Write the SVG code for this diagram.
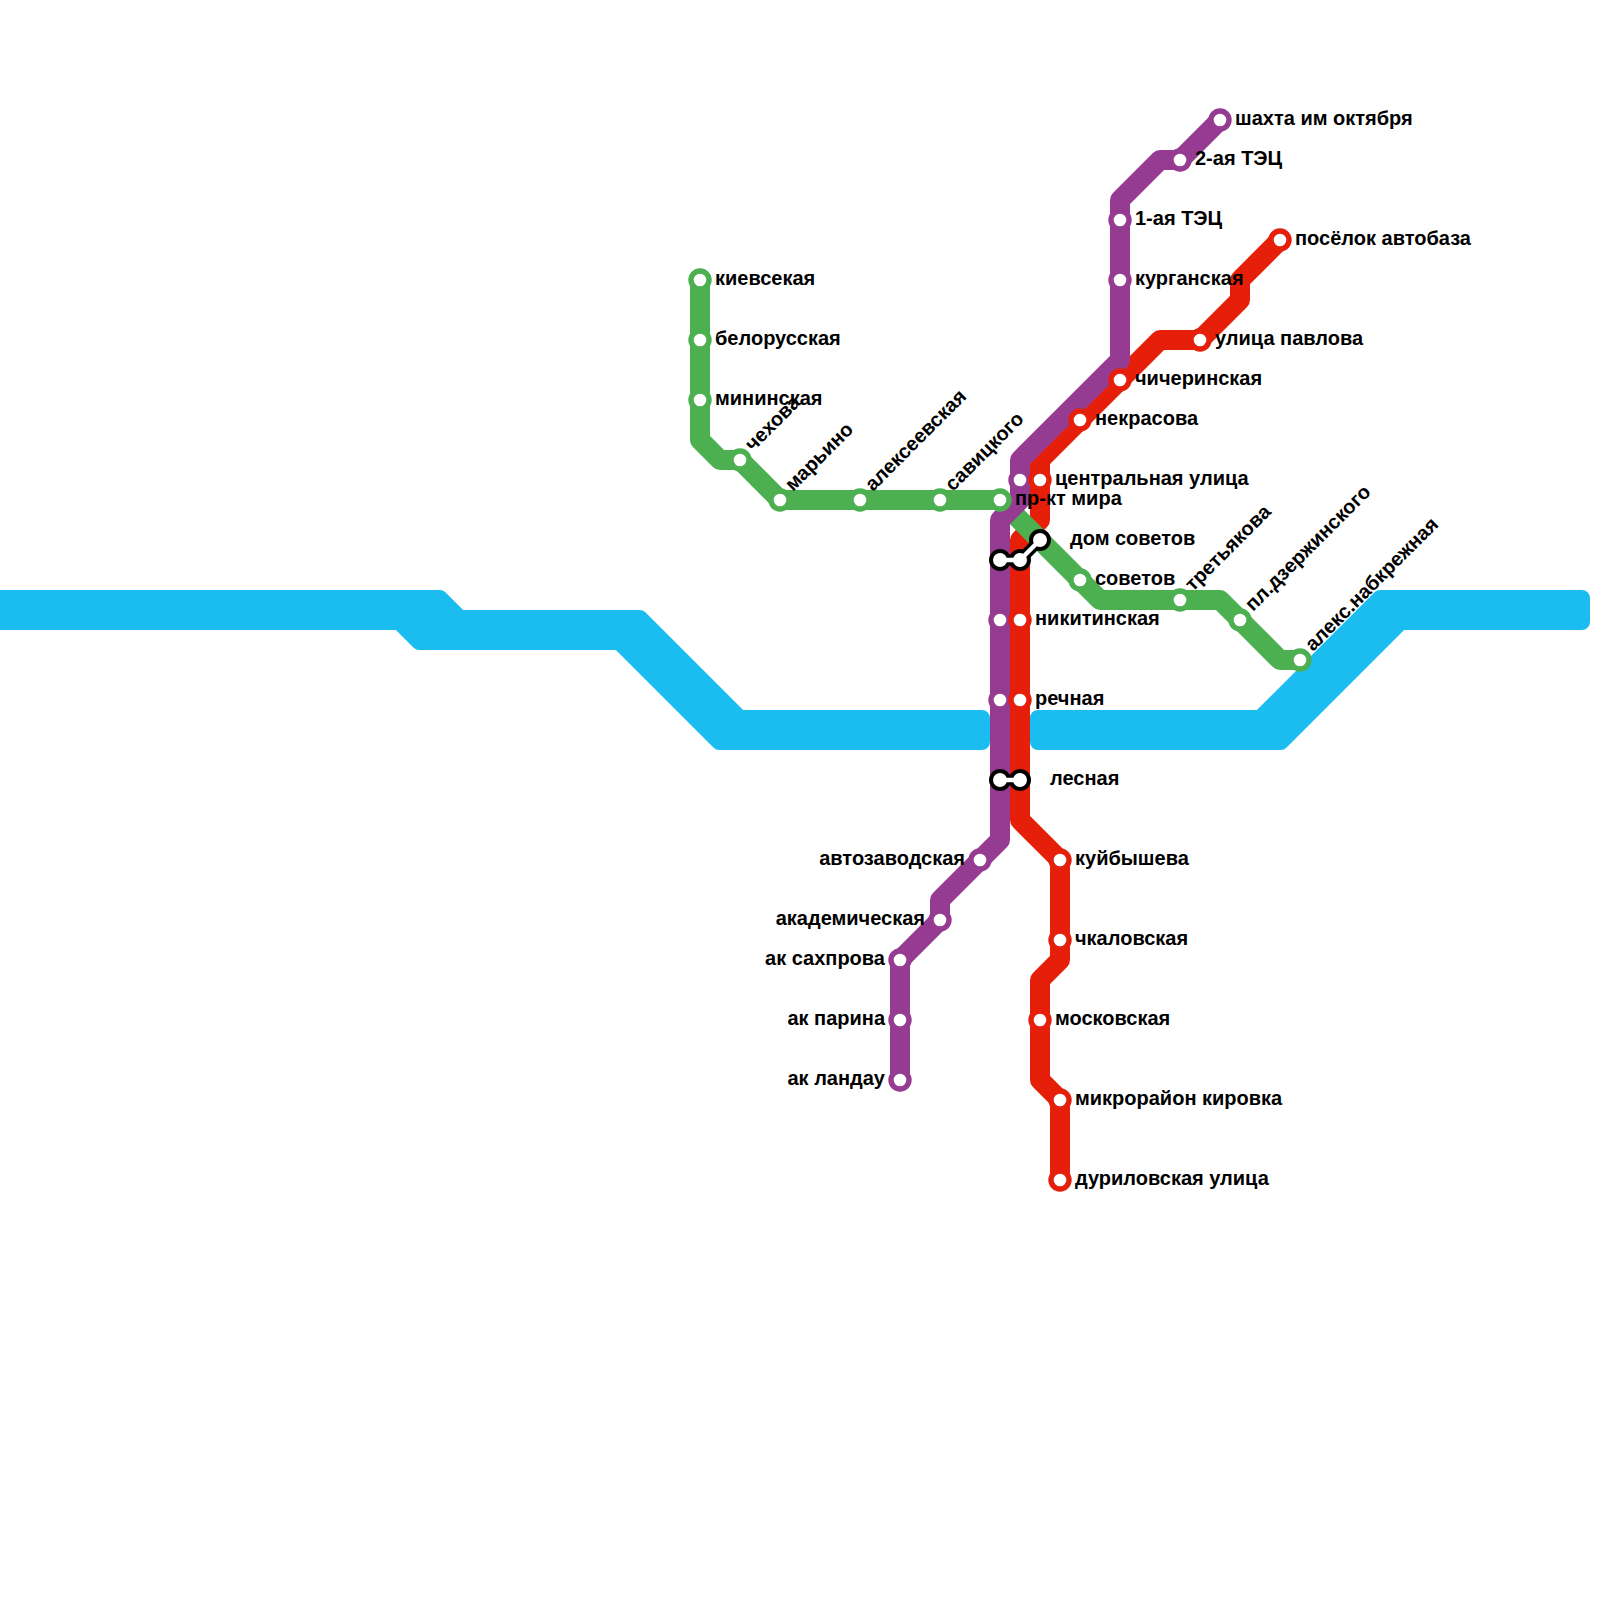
<svg xmlns="http://www.w3.org/2000/svg" width="1600" height="1600" viewBox="0 0 1600 1600">
<style>
.river{fill:#1bbcf0;stroke:#1bbcf0;stroke-width:16;stroke-linejoin:round}
.line{fill:none;stroke-width:20;stroke-linejoin:round;stroke-linecap:butt}
.g{stroke:#4cb050}.p{stroke:#953c92}.r{stroke:#e61f0a}
.st{fill:#fff;stroke-width:5.4}
.ik{fill:none;stroke:#000;stroke-width:11;stroke-linecap:round;stroke-linejoin:round}
.iw{fill:none;stroke:#fff;stroke-width:4.5;stroke-linecap:round;stroke-linejoin:round}
.ic{fill:#fff;stroke:#000;stroke-width:4}
text{font-family:"Liberation Sans",Arial,sans-serif;font-weight:bold;font-size:20px;fill:#000}
.e{text-anchor:end}
</style>
<g id="connectors">
<path class="river" d="M-20 598H439.7L459.7 618H639.7L739.7 718H982V742H719.3L619.3 642H419.3L399.3 622H-20Z"/>
<path class="river" d="M1038 718H1260.3L1380.3 598H1582V622H1400.7L1280.7 742H1038Z"/>
<path class="line r" d="M1280 240L1240 280V300L1200 340H1160L1040 460V520L1020 540V820L1060 860V960L1040 980V1080L1060 1100V1180"/>
<path class="line g" d="M700 280V440L720 460H740L780 500H1000L1100 600H1220L1280 660H1300"/>
<path class="line p" d="M1220 120L1180 160H1160L1120 200V360L1020 460V500L1000 520V840L940 900V920L900 960V1080"/>
<path class="ik" d="M1000 560H1020L1040 540M1000 780H1020"/>
</g>
<g id="st-kievskaya"><circle class="st g" cx="700" cy="280" r="9"/><text x="715" y="285">киевсекая</text></g>
<g id="st-belorusskaya"><circle class="st g" cx="700" cy="340" r="9"/><text x="715" y="345">белорусская</text></g>
<g id="st-mininskaya"><circle class="st g" cx="700" cy="400" r="9"/><text x="715" y="405">мининская</text></g>
<g id="st-chekhova"><circle class="st g" cx="740" cy="460" r="9"/><text transform="translate(753 452) rotate(-45)">чехова</text></g>
<g id="st-maryino"><circle class="st g" cx="780" cy="500" r="9"/><text transform="translate(793 492) rotate(-45)">марьино</text></g>
<g id="st-alekseevskaya"><circle class="st g" cx="860" cy="500" r="9"/><text transform="translate(873 492) rotate(-45)">алексеевская</text></g>
<g id="st-savitskogo"><circle class="st g" cx="940" cy="500" r="9"/><text transform="translate(953 492) rotate(-45)">савицкого</text></g>
<g id="st-mira"><circle class="st g" cx="1000" cy="500" r="9"/><text x="1015" y="505">пр-кт мира</text></g>
<g id="st-sovetov"><circle class="st g" cx="1080" cy="580" r="9"/><text x="1095" y="585">советов</text></g>
<g id="st-tretyakova"><circle class="st g" cx="1180" cy="600" r="9"/><text transform="translate(1193 592) rotate(-45)">третьякова</text></g>
<g id="st-dzerzhinskogo"><circle class="st g" cx="1240" cy="620" r="9"/><text transform="translate(1253 612) rotate(-45)">пл.дзержинского</text></g>
<g id="st-naberezhnaya"><circle class="st g" cx="1300" cy="660" r="9"/><text transform="translate(1313 652) rotate(-45)">алекс.набкрежная</text></g>
<g id="st-shakhta"><circle class="st p" cx="1220" cy="120" r="9"/><text x="1235" y="125">шахта им октября</text></g>
<g id="st-tec2"><circle class="st p" cx="1180" cy="160" r="9"/><text x="1195" y="165">2-ая ТЭЦ</text></g>
<g id="st-tec1"><circle class="st p" cx="1120" cy="220" r="9"/><text x="1135" y="225">1-ая ТЭЦ</text></g>
<g id="st-kurganskaya"><circle class="st p" cx="1120" cy="280" r="9"/><text x="1135" y="285">курганская</text></g>
<g id="st-purple-480"><circle class="st p" cx="1020" cy="480" r="9"/></g>
<g id="st-purple-620"><circle class="st p" cx="1000" cy="620" r="9"/></g>
<g id="st-purple-700"><circle class="st p" cx="1000" cy="700" r="9"/></g>
<g id="st-avtozavodskaya"><circle class="st p" cx="980" cy="860" r="9"/><text class="e" x="965" y="865">автозаводская</text></g>
<g id="st-akademicheskaya"><circle class="st p" cx="940" cy="920" r="9"/><text class="e" x="925" y="925">академическая</text></g>
<g id="st-sakhprova"><circle class="st p" cx="900" cy="960" r="9"/><text class="e" x="885" y="965">ак сахпрова</text></g>
<g id="st-parina"><circle class="st p" cx="900" cy="1020" r="9"/><text class="e" x="885" y="1025">ак парина</text></g>
<g id="st-landau"><circle class="st p" cx="900" cy="1080" r="9"/><text class="e" x="885" y="1085">ак ландау</text></g>
<g id="st-avtobaza"><circle class="st r" cx="1280" cy="240" r="9"/><text x="1295" y="245">посёлок автобаза</text></g>
<g id="st-pavlova"><circle class="st r" cx="1200" cy="340" r="9"/><text x="1215" y="345">улица павлова</text></g>
<g id="st-chicherinskaya"><circle class="st r" cx="1120" cy="380" r="9"/><text x="1135" y="385">чичеринская</text></g>
<g id="st-nekrasova"><circle class="st r" cx="1080" cy="420" r="9"/><text x="1095" y="425">некрасова</text></g>
<g id="st-centralnaya"><circle class="st r" cx="1040" cy="480" r="9"/><text x="1055" y="485">центральная улица</text></g>
<g id="st-nikitinskaya"><circle class="st r" cx="1020" cy="620" r="9"/><text x="1035" y="625">никитинская</text></g>
<g id="st-rechnaya"><circle class="st r" cx="1020" cy="700" r="9"/><text x="1035" y="705">речная</text></g>
<g id="st-kuybysheva"><circle class="st r" cx="1060" cy="860" r="9"/><text x="1075" y="865">куйбышева</text></g>
<g id="st-chkalovskaya"><circle class="st r" cx="1060" cy="940" r="9"/><text x="1075" y="945">чкаловская</text></g>
<g id="st-moskovskaya"><circle class="st r" cx="1040" cy="1020" r="9"/><text x="1055" y="1025">московская</text></g>
<g id="st-kirovka"><circle class="st r" cx="1060" cy="1100" r="9"/><text x="1075" y="1105">микрорайон кировка</text></g>
<g id="st-durilovskaya"><circle class="st r" cx="1060" cy="1180" r="9"/><text x="1075" y="1185">дуриловская улица</text></g>
<g id="st-domsovetov">
<circle class="ic" cx="1000" cy="560" r="9"/><circle class="ic" cx="1020" cy="560" r="9"/><circle class="ic" cx="1040" cy="540" r="9"/>
<path class="iw" d="M1000 560H1020L1040 540"/><text x="1070" y="545">дом советов</text></g>
<g id="st-lesnaya">
<circle class="ic" cx="1000" cy="780" r="9"/><circle class="ic" cx="1020" cy="780" r="9"/>
<path class="iw" d="M1000 780H1020"/><text x="1050" y="785">лесная</text></g>
</svg>
